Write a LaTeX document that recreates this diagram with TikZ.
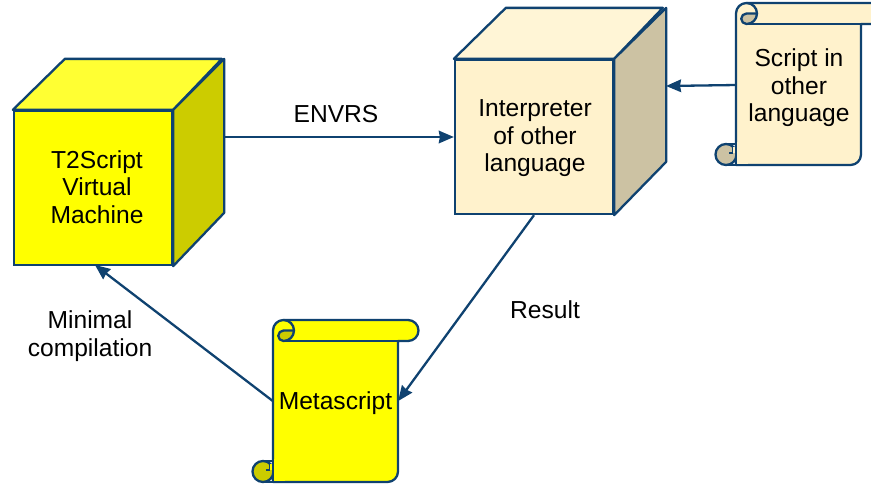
\documentclass[tikz,border=0pt]{standalone}
\usepackage{fontspec}
\setmainfont{Liberation Sans}
\usepackage{tikz}
\usetikzlibrary{arrows.meta}
\definecolor{edgeblue}{HTML}{0F4270}
\definecolor{vmyellow}{HTML}{FFFF00}
\definecolor{vmtop}{HTML}{FFFF33}
\definecolor{vmside}{HTML}{CCCC00}
\definecolor{creamfront}{HTML}{FFF2CC}
\definecolor{creamtop}{HTML}{FFF5D6}
\definecolor{creamside}{HTML}{CCC2A3}
\tikzset{
  every node/.style={font=\fontsize{24.6}{27.5}\selectfont,align=center,text=black},
  edge/.style={draw=edgeblue,line width=2.3pt},
  link/.style={edge,-{Stealth[length=15pt,width=12.5pt,inset=1pt]}},
  cubefront/.style={edge,rectangle,minimum width=158pt,minimum height=154pt,inner sep=0pt},
  scrolltext/.style={rectangle,minimum width=125pt,minimum height=162pt,inner sep=0pt},
  pics/scrollbody/.style 2 args={code={
      \draw[edge,fill=#1,line join=round] (0,10.5) arc[start angle=180,end angle=90,radius=10.5pt] -- (135,0)
            arc[start angle=90,end angle=-90,radius=10.5pt] -- (125,21) -- (125,151.5)
            arc[start angle=0,end angle=-90,radius=10.5pt] -- (0,162) -- cycle;
      \draw[edge,fill=#2,line join=round] (21,10.5) arc[start angle=0,end angle=-90,radius=10.5pt]
            arc[start angle=-90,end angle=-270,radius=5.25pt] -- cycle;
      \draw[edge] (10.5,21) -- (125,21);
      \draw[edge] (10.5,0) arc[start angle=90,end angle=0,radius=10.5pt];
      \draw[edge,fill=#2] (-10,162) arc[start angle=-90,end angle=-270,radius=10.5pt] arc[start angle=90,end angle=-90,radius=10.5pt] -- cycle;
      \fill[#1] (0.5,139) rectangle (12,161);
      \fill[#1] (-3.5,143.5) rectangle (0.5,150);
      \draw[edge,line width=1.6pt] (-3.5,144) -- (-3.5,150) -- (-7.5,150);
      \draw[edge] (-10,141) -- (0,141) -- (0,162) -- (-10,162);
  }}
}
\begin{document}
\begin{tikzpicture}[x=1pt,y=-1pt]
  \useasboundingbox (0,0) rectangle (871,483);
  \clip (0,0) rectangle (871,483);

  \node[cubefront,fill=vmyellow,label={[xshift=4pt,yshift=1pt]center:{T2Script\\Virtual\\Machine}}] (vm) at (93,188) {};
  \draw[edge,fill=vmtop,line join=round] (vm.north west) -- ++(52,-51) -- ++(157,0) -- (vm.north east) -- cycle;
  \draw[edge,fill=vmside,line join=round] (vm.north east) -- ++(51,-51) -- ++(0,154) -- (vm.south east) -- cycle;
  \coordinate (vmback) at (223,137);

  \node[cubefront,fill=creamfront,label={[xshift=1pt,yshift=-1.5pt]center:{Interpreter\\of other\\language}}] (interp) at (534,137) {};
  \draw[edge,fill=creamtop,line join=round] (interp.north west) -- ++(52,-51) -- ++(157,0) -- (interp.north east) -- cycle;
  \draw[edge,fill=creamside,line join=round] (interp.north east) -- ++(52,-51) -- ++(0,154) -- (interp.south east) -- cycle;
  \coordinate (interpback) at (666,86);

  \pic at (736,3) {scrollbody={creamfront}{creamside}};
  \node[scrolltext,label={[yshift=-3pt]center:{Script in\\other\\language}}] (script) at (799,85) {};

  \pic at (273,320) {scrollbody={vmyellow}{vmside}};
  \node[scrolltext,label={[yshift=-2pt]center:Metascript}] (meta) at (335.5,401) {};

  \draw[link] (vmback) -- (interp.west);
  \draw[link] (script.west) -- (interpback);
  \draw[link] (interp.south) -- (meta.east);
  \draw[link] (meta.west) -- (95,265);

  \node (envrs) at (336,114) {ENVRS};
  \node (result) at (545,310) {Result};
  \node (minimal) at (90,336) {Minimal\\compilation};
\end{tikzpicture}
\end{document}
